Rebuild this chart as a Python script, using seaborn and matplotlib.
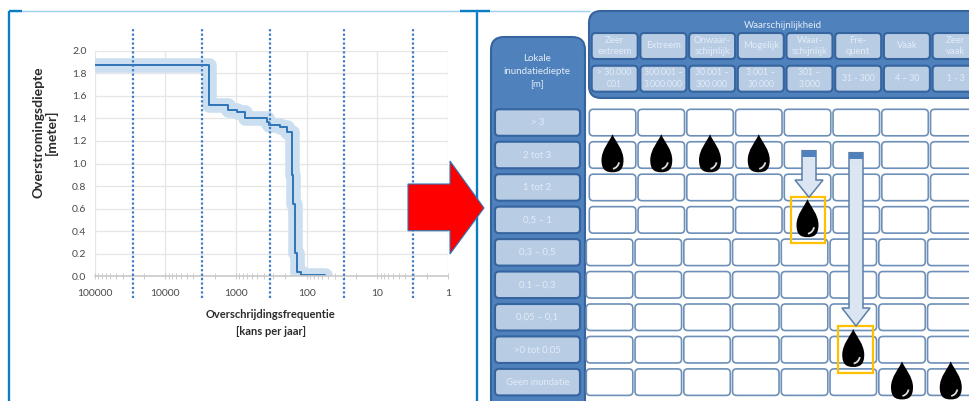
import matplotlib
matplotlib.use("Agg")
import matplotlib.pyplot as plt
import seaborn as sns
from matplotlib.patches import FancyBboxPatch, PathPatch, Polygon, Rectangle
from matplotlib.path import Path
from matplotlib.ticker import FixedFormatter, FixedLocator, LogLocator, NullFormatter

# exceedance curve
freq = [100000, 2390, 1310, 960, 746, 368, 345, 239, 192, 161, 155, 147, 137, 120, 55]
depth = [1.87, 1.52, 1.47, 1.46, 1.40, 1.37, 1.34, 1.32, 1.28, 0.90, 0.64, 0.21, 0.04, 0.01, 0.01]
class_bounds = [28700, 3060, 327, 29.4, 3.16]
x_ticks = [100000, 10000, 1000, 100, 10, 1]
y_ticks = [0.0, 0.2, 0.4, 0.6, 0.8, 1.0, 1.2, 1.4, 1.6, 1.8, 2.0]

# risk matrix
depth_classes = ["> 3", "2 tot 3", "1 tot 2", "0,5 – 1", "0,3 – 0,5", "0,1 – 0,3",
                 "0,05 – 0,1", ">0 tot 0,05", "Geen inundatie"]
likelihood = ["Zeer\nextreem", "Extreem", "Onwaar-\nschijnlijk", "Mogelijk", "Waar-\nschijnlijk",
              "Fre-\nquent", "Vaak", "Zeer\nvaak"]
return_periods = ["> 30.000.\n001", "300.001 –\n3.000.000", "30.001 –\n300.000", "3.001 –\n30.000",
                  "301 –\n3.000", "31 - 300", "4 – 30", "1 - 3"]
drop_cols = [0, 1, 2, 3, 4, 5, 6, 7]
drop_rows = [1, 1, 1, 1, 3, 7, 8, 8]

DARK = "#4f81bd"
EDGE = "#35649e"
LIGHT = "#b8cce4"
PALE = "#e3ecf6"
FRAME = "#0b7dc4"

sns.set_theme(style="white")
plt.rcParams["font.family"] = ["Lato", "DejaVu Sans"]

fig = plt.figure(figsize=(9.69, 4.01), dpi=100)
ax = fig.add_axes([94.7 / 969, 1 - 276.3 / 401, 353.3 / 969, 225.6 / 401])

sns.lineplot(x=freq, y=depth, sort=False, estimator=None, errorbar=None, drawstyle="steps-post",
             color="#cbdff0", linewidth=10.5, solid_joinstyle="round", solid_capstyle="round", ax=ax)
sns.lineplot(x=freq, y=depth, sort=False, estimator=None, errorbar=None, drawstyle="steps-post",
             color="#2e75b6", linewidth=1.4, ax=ax)
ax.vlines(class_bounds, -0.192, 2.213, color="#3f7cc6", linewidth=1.6, linestyle=(0, (1, 1)),
          clip_on=False, zorder=5)

ax.set_xscale("log")
ax.set_xlim(100000, 1)
ax.set_ylim(0, 2)
ax.xaxis.set_major_locator(FixedLocator(x_ticks))
ax.xaxis.set_major_formatter(FixedFormatter([str(t) for t in x_ticks]))
ax.xaxis.set_minor_locator(LogLocator(base=10, subs=range(2, 10), numticks=12))
ax.xaxis.set_minor_formatter(NullFormatter())
ax.set_yticks(y_ticks)
ax.set_yticklabels([f"{t:.1f}" for t in y_ticks])
ax.grid(True, which="major", color="#e6e6e6", linewidth=0.9)
ax.set_axisbelow(True)
for side in ["top", "right", "left"]:
    ax.spines[side].set_visible(False)
ax.spines["bottom"].set_color("#cccccc")
ax.tick_params(axis="x", which="both", direction="inout", length=4, width=0.7, color="#cccccc",
               bottom=True, labelsize=7.5, labelcolor="#4a4a4a", pad=7.5)
ax.tick_params(axis="y", length=0, labelsize=7.5, labelcolor="#4a4a4a", pad=6)
ax.set_xlabel("Overschrijdingsfrequentie\n[kans per jaar]", fontsize=8, fontweight="bold",
              color="#2b2b2b", va="center", linespacing=1.6)
ax.xaxis.set_label_coords(0.499, -0.207)
ax.set_ylabel("Overstromingsdiepte\n[meter]", fontsize=10, fontweight="bold", color="#2b2b2b",
              va="center", linespacing=1.1)
ax.yaxis.set_label_coords(-0.14, 0.64)

# overlay in pixel coordinates for the matrix and frames
ov = fig.add_axes([0, 0, 1, 1], facecolor="none")
ov.set_xlim(0, 969)
ov.set_ylim(401, 0)
ov.axis("off")


def box(x0, y0, x1, y1, face, edge=EDGE, lw=1.5, pad=4):
    ov.add_patch(FancyBboxPatch((x0 + pad, y0 + pad), x1 - x0 - 2 * pad, y1 - y0 - 2 * pad,
                                boxstyle=f"round,pad={pad},rounding_size={pad}", facecolor=face,
                                edgecolor=edge, linewidth=lw, clip_on=True))


def drop(cx, cy, w=22, h=38):
    top = cy - h / 2
    bot = cy + h / 2
    verts = [(cx, top), (cx + w * 0.14, top + h * 0.2), (cx + w / 2, top + h * 0.4), (cx + w / 2, top + h * 0.68),
             (cx + w / 2, bot - h * 0.06), (cx + w * 0.3, bot), (cx, bot),
             (cx - w * 0.3, bot), (cx - w / 2, bot - h * 0.06), (cx - w / 2, top + h * 0.68),
             (cx - w / 2, top + h * 0.4), (cx - w * 0.14, top + h * 0.2), (cx, top)]
    codes = [Path.MOVETO] + [Path.CURVE4] * 12
    ov.add_patch(PathPatch(Path(verts, codes), facecolor="black", edgecolor="none", zorder=6))
    # white glint, lower right
    glint = [(cx + w * 0.3, bot - h * 0.26), (cx + w * 0.24, bot - h * 0.12), (cx + w * 0.02, bot - h * 0.09)]
    ov.add_patch(PathPatch(Path(glint, [Path.MOVETO, Path.CURVE3, Path.CURVE3]), facecolor="none",
                           edgecolor="#dddddd", linewidth=1.3, zorder=7))


def block_arrow(cx, top, band_end, head_y, tip):
    half = 7
    head = 14
    ov.add_patch(Polygon([(cx - half, top), (cx + half, top), (cx + half, head_y), (cx + head, head_y),
                          (cx, tip), (cx - head, head_y), (cx - half, head_y)], closed=True,
                         facecolor="#dce6f2", edgecolor="#5b7fa8", linewidth=1.1, zorder=8))
    ov.add_patch(Rectangle((cx - half, top), 2 * half, band_end - top, facecolor=DARK,
                           edgecolor="none", zorder=9))


# panels
box(589, 11, 1010, 98, DARK, edge=EDGE, pad=12)
box(491, 37, 585, 420, DARK, edge=EDGE, pad=13)

row_top = [109.3 + 32.45 * i for i in range(len(depth_classes))]
for i, label in enumerate(depth_classes):
    y0 = row_top[i]
    box(495, y0, 580, y0 + 26.5, LIGHT)
    ov.text(537.5, y0 + 13.3, label, color=PALE, fontsize=6.8, ha="center", va="center")
    start = 589.3 if i < 4 else 586.3
    for j in range(8):
        x0 = start + 48.75 * j
        box(x0, y0, x0 + 46.5, y0 + 26.5, "white", edge="#6d8fb8", lw=1.2)

col_left = [591.7 + 48.7 * j for j in range(8)]
for j in range(8):
    x0 = col_left[j]
    box(x0, 33, x0 + 46, 59, LIGHT)
    box(x0, 65.7, x0 + 46, 91.7, LIGHT)
    ov.text(x0 + 23, 46, likelihood[j], color=PALE, fontsize=6.8, ha="center", va="center", linespacing=1.35)
    ov.text(x0 + 23, 78.7, return_periods[j], color=PALE, fontsize=6.2, ha="center", va="center", linespacing=1.45)

ov.text(783, 26, "Waarschijnlijkheid", color=PALE, fontsize=7, ha="center", va="center")
ov.text(536.7, 71.5, "Lokale\ninundatiediepte\n[m]", color=PALE, fontsize=7, ha="center", va="center",
        linespacing=1.6)

# drops
for c, r in zip(drop_cols, drop_rows):
    start = 589.3 if r < 4 else 586.3
    drop(start + 48.75 * c + 23.2, row_top[r] + 11.5)

# highlighted cells and arrows
ov.add_patch(Rectangle((791, 196.7), 34, 46, facecolor="none", edgecolor="#ffc000", linewidth=1.6, zorder=7))
ov.add_patch(Rectangle((838, 326), 35, 47.3, facecolor="none", edgecolor="#ffc000", linewidth=1.6, zorder=7))
block_arrow(809, 150.7, 157, 180, 197.3)
block_arrow(856, 152.7, 159, 308, 326)

# red arrow between the two panels
ov.add_patch(Polygon([(408, 184), (450, 184), (450, 161), (484, 208), (450, 254), (450, 230.7), (408, 230.7)],
                     closed=True, facecolor="#ff0000", edgecolor="#2e75b6", linewidth=0.8, zorder=10))

# slide frames
ov.plot([9, 9], [10.5, 401], color=FRAME, linewidth=1.7, solid_capstyle="butt")
ov.plot([476.7, 476.7], [10.5, 401], color=FRAME, linewidth=1.7, solid_capstyle="butt")
ov.plot([9, 590], [10.7, 10.7], color="#9dcfee", linewidth=1, solid_capstyle="butt")
ov.plot([9, 22], [10.7, 10.7], color=FRAME, linewidth=1.7, solid_capstyle="butt")
ov.plot([460, 490], [10.7, 10.7], color=FRAME, linewidth=1.7, solid_capstyle="butt")

fig.savefig("out.png", dpi=100)
